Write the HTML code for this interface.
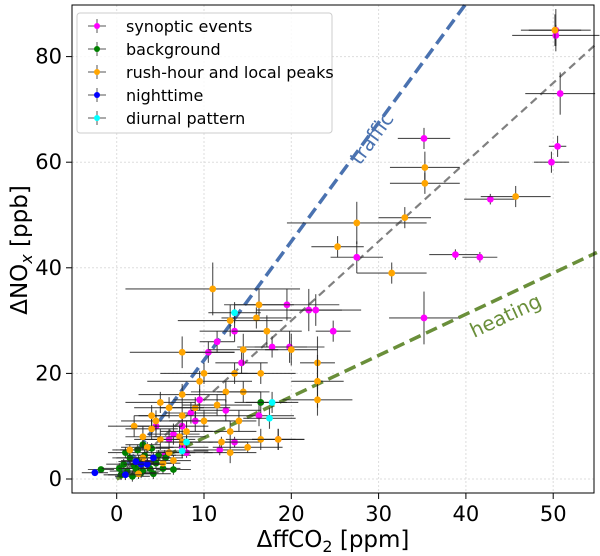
<!DOCTYPE html>
<html><head><meta charset="utf-8"><style>
body{margin:0;background:#fff;}
svg{display:block;font-family:"DejaVu Sans","Liberation Sans",sans-serif;}
</style></head><body>
<svg id="chart" width="600" height="556" viewBox="0 0 600 556" xmlns="http://www.w3.org/2000/svg">
<g id="grid"></g>
<g id="lines"></g>
<g id="marks"></g>
<rect x="72" y="5" width="522" height="488" fill="none" stroke="#000" stroke-width="1"/>
<g id="ticks"></g>
<text x="333" y="547" font-size="23" text-anchor="middle">ΔffCO<tspan font-size="16" dy="5">2</tspan><tspan dy="-5"> [ppm]</tspan></text>
<text transform="translate(27,250) rotate(-90)" font-size="23" text-anchor="middle">ΔNO<tspan font-size="16" dy="5" font-style="italic">x</tspan><tspan dy="-5"> [ppb]</tspan></text>
<text transform="translate(360,166) rotate(-54)" font-size="20" fill="#4a72b0">traffic</text>
<text transform="translate(474,338) rotate(-25)" font-size="20" fill="#6a8f3a">heating</text>
<g id="legend">
<rect x="77" y="13" width="255" height="120" rx="3" fill="#fff" fill-opacity="0.85" stroke="#ccc"/>
</g>
</svg>
<script>
const xTicks=[0,10,20,30,40,50];
const yTicks=[0,20,40,60,80];
const legendLabels=["synoptic events","background","rush-hour and local peaks","nighttime","diurnal pattern"];
const legendColors=["#ff00ff","#008000","#ffa500","#0000ff","#00ffff"];
const trafficSlope=2.25, gridSlope=1.5, heatingSlope=0.78;
// [x, y, xerr, yerr]
const synoptic=[[50.3,85,4,4],[50.3,84,5,2],[50.8,73,4,4],[50.5,63,1,2],[49.8,60,2,2],[35.2,64.5,3,2],[42.8,53,3,1],[38.8,42.5,3,1],[41.6,42,2,1],[35.2,30.5,4,5],[27.5,42,3,3],[22,32,6,4],[22.8,32,3,3],[24.8,28,2,2],[19.5,33,6,3],[19.8,25,4,3],[13.5,28,4,2],[10.5,24,3,2],[14.3,22,3,2],[17.8,25,4,2],[11.5,26,2,2],[9.5,15,3,2],[7.5,10,3,2],[8.5,12.5,3,2],[12.5,13,4,2],[16.3,12,4,2],[18.5,7.5,3,2],[7.5,6,3,2],[5.5,4.5,3,1],[6,7.5,3,2],[3.5,3,2,1],[11.8,5.5,3,1],[8,5,3,1],[13.5,7,3,1],[6.5,8.5,3,2],[4.5,10,3,2],[9,11,3,2]];
const background=[[-1.8,1.8,1.5,0.5],[0.5,0.8,2,1],[1.2,1.5,2,1],[2,2.5,2,1],[3,1.5,2,1],[3.8,2,2,1],[4.5,3,2,1],[1.5,4,2,1],[2.5,3.5,2,1],[0.8,2.8,2,1],[1.8,0.5,2,1],[3.2,4.5,2,1],[4.2,1,2,1],[2.8,1.2,2,1],[5.3,2,2,1],[3.5,2.8,2,1],[0.3,2,2,1],[2.2,2,2,1],[4.8,4.5,2,1],[1,5,2,1],[5.6,4,2,1],[6.5,1.8,2,1],[3,6.5,2,1],[16.5,14.5,3,2],[2.4,5.5,2,1],[4,5.8,2,1]];
const rush=[[50.2,85,3,3],[45.7,53.5,4,2],[35.3,59,4,3],[35.3,56,4,2],[33,49.5,3,2],[27.5,48.5,8,4],[25.3,44,3,2],[31.5,39,4,2],[23,22,2,5],[23,18.5,3,5],[23,15,4,3],[11,36,10,5],[16.3,33,4,3],[16,30.5,4,2],[13,30,6,3],[17.2,28,4,3],[7.5,24,6,3],[14.5,24.5,4,3],[20,24.5,3,3],[13.5,20,3,2],[10,20,5,2],[16.5,20,4,2],[14.5,16.5,3,2],[12.5,16.5,4,2],[9.5,18.5,6,2],[7.5,16,5,2],[9,13.5,4,2],[6,13.5,4,2],[5,14.5,4,2],[11.5,14,4,2],[7.5,12,5,2],[10,11,3,2],[14,11,2,2],[13,9,3,2],[16.5,7.5,4,2],[4.5,11,4,2],[2,10,3,2],[7.2,8,3,2],[4,9.5,3,2],[5,7.5,3,2],[3,4,3,1],[3.5,6,3,1],[1.5,5.5,2,1],[2.5,1,2,1],[5.3,3,2,1],[6,5,3,1],[12,7,3,1],[15,6,4,1],[6.5,3.5,2,1],[7.5,7,2,1],[18.5,7.5,3,2],[13,5,3,2],[8,9,3,2],[3,8,2,2],[4,12,2,2]];
const night=[[-2.5,1.2,1.5,0.5],[1,0.8,2,1],[2.8,2.8,2,1],[3.5,2.8,2,1],[2.2,3.3,2,1],[4.2,4,2,1]];
const diurnal=[[13.5,31.5,3,2],[17.8,14.5,3,2],[17.5,11.5,3,2],[8,7,3,1],[7.5,5.3,3,1]];
const series=[synoptic,background,rush,night,diurnal];
const X0=116.7,XS=8.73,Y0=479,YS=5.28;
const sx=v=>X0+v*XS, sy=v=>Y0-v*YS;
const NS="http://www.w3.org/2000/svg";
function mk(tag,attrs,parent){const e=document.createElementNS(NS,tag);for(const k in attrs)e.setAttribute(k,attrs[k]);parent.appendChild(e);return e;}
const grid=document.getElementById('grid'),ticks=document.getElementById('ticks');
xTicks.forEach(t=>{
 const gl=mk('line',{x1:sx(t),x2:sx(t),y1:5,y2:493,stroke:'#ddd','stroke-dasharray':'2,2'},grid);
 
 
 const tl=mk('line',{x1:sx(t),x2:sx(t),y1:493,y2:499,stroke:'#000'},ticks);
 
 
 const tx=mk('text',{x:sx(t),y:521,'font-size':21,'text-anchor':'middle'},ticks);
 tx.textContent=t;
 
 
});
yTicks.forEach(t=>{
 const gl=mk('line',{x1:72,x2:594,y1:sy(t),y2:sy(t),stroke:'#ddd','stroke-dasharray':'2,2'},grid);
 
 
 const tl=mk('line',{x1:66,x2:72,y1:sy(t),y2:sy(t),stroke:'#000'},ticks);
 
 
 const tx=mk('text',{x:62,y:sy(t)+7,'font-size':21,'text-anchor':'end'},ticks);
 tx.textContent=t;
 
 
});
const lines=document.getElementById('lines');
function refLine(slope,color,w,dash,name){
 const xe=Math.min(55,90/slope);
 const l=mk('line',{x1:sx(0),y1:sy(0),x2:sx(xe),y2:sy(slope*xe),stroke:color,'stroke-width':w,'stroke-dasharray':dash},lines);
 
 
}
const marks=document.getElementById('marks');
series.forEach((arr,i)=>{
 arr.forEach(p=>{
  const g=mk('g',{},marks);
  
  
  mk('line',{x1:sx(p[0]-p[2]),x2:sx(p[0]+p[2]),y1:sy(p[1]),y2:sy(p[1]),stroke:'#222','stroke-width':1.1,'stroke-opacity':0.8},g);
  mk('line',{x1:sx(p[0]),x2:sx(p[0]),y1:sy(p[1]-p[3]),y2:sy(p[1]+p[3]),stroke:'#222','stroke-width':1.1,'stroke-opacity':0.8},g);
  mk('circle',{cx:sx(p[0]),cy:sy(p[1]),r:3.4,fill:legendColors[i]},g);
 });
});
refLine(gridSlope,'#808080',2.2,'8,5','one-to-one-line');
refLine(trafficSlope,'#4a72b0',3.5,'12,6','traffic-line');
refLine(heatingSlope,'#6a8f3a',3.5,'12,6','heating-line');
const lg=document.getElementById('legend');
legendLabels.forEach((lab,i)=>{
 const y=26+i*23;
 const g=mk('g',{},lg);
 
 
 mk('line',{x1:88,x2:106,y1:y,y2:y,stroke:'#555'},g);
 mk('line',{x1:97,x2:97,y1:y-7,y2:y+7,stroke:'#555'},g);
 mk('circle',{cx:97,cy:y,r:3,fill:legendColors[i]},g);
 const t=mk('text',{x:126,y:y+6,'font-size':16},g);
 t.textContent=lab;
});
</script>
</body></html>
